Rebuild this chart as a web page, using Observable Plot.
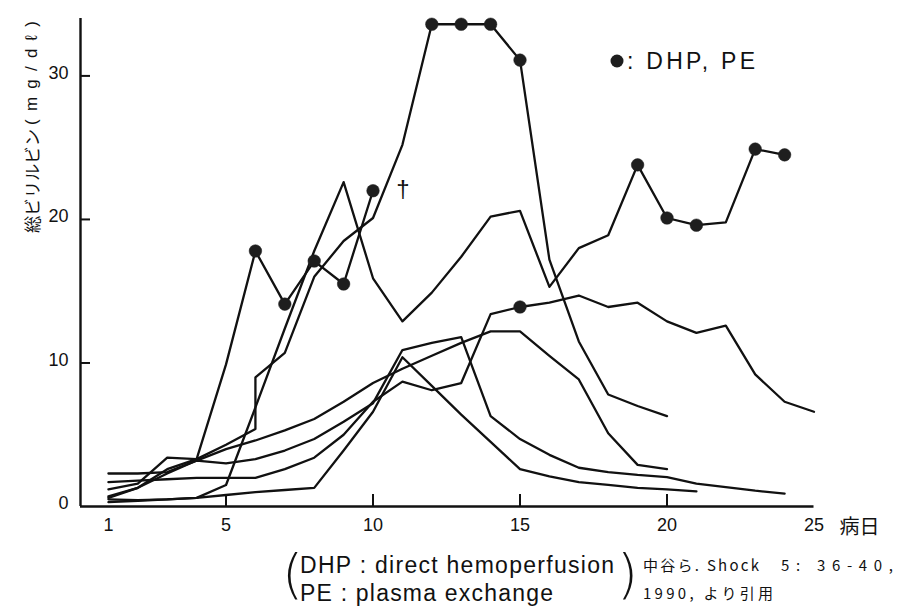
<!DOCTYPE html>
<html><head><meta charset="utf-8">
<script src="https://cdn.jsdelivr.net/npm/d3@7"></script>
<script src="https://cdn.jsdelivr.net/npm/@observablehq/plot@0.6"></script>
<style>
body{margin:0;background:#fff;}
#wrap{width:897px;height:607px;overflow:hidden;}
</style></head><body><div id="wrap"></div>
<script>
// ---- data: [病日, 総ビリルビン mg/dl] per case ----
const caseA = [[1,1.2],[2,1.6],[3,3.4],[4,3.3],[5,4.3],[6,5.4],[6,9.0],[7,10.7],[8,16.0],[9,18.5],[10,20.1],[11,25.2],[12,33.6],[13,33.6],[14,33.6],[15,31.1],[16,17.2],[17,11.5],[18,7.8],[19,7.0],[20,6.3]];
const caseB = [[1,0.3],[2,0.4],[3,0.5],[4,0.6],[5,1.5],[6,6.9],[7,12.4],[8,17.8],[9,22.6],[10,15.9],[11,12.9],[12,14.9],[13,17.4],[14,20.2],[15,20.6],[16,15.3],[17,18.0],[18,18.9],[19,23.8],[20,20.1],[21,19.6],[22,19.8],[23,24.9],[24,24.5]];
const caseD = [[1,0.7],[2,1.3],[3,2.6],[4,3.3],[5,9.9],[6,17.8],[7,14.1],[8,17.1],[9,15.5],[10,22.0]];
const caseE = [[1,2.3],[2,2.3],[3,2.4],[4,3.2],[5,3.0],[6,3.3],[7,3.9],[8,4.7],[9,5.9],[10,7.2],[11,10.9],[12,11.4],[13,11.8],[14,6.3],[15,4.7],[16,3.6],[17,2.7],[18,2.4],[19,2.2],[20,2.05],[21,1.6],[22,1.35],[23,1.1],[24,0.9]];
const caseF = [[1,0.5],[2,0.45],[3,0.5],[4,0.6],[5,0.8],[6,1.0],[7,1.15],[8,1.3],[9,3.9],[10,6.6],[11,10.4],[12,8.4],[13,6.4],[14,4.5],[15,2.6],[16,2.1],[17,1.7],[18,1.5],[19,1.3],[20,1.2],[21,1.05]];
const caseG = [[1,1.7],[2,1.8],[3,1.9],[4,2.0],[5,2.0],[6,2.0],[7,2.6],[8,3.4],[9,5.0],[10,7.3],[11,8.7],[12,8.1],[13,8.6],[14,13.4],[15,13.9],[16,14.2],[17,14.7],[18,13.9],[19,14.2],[20,12.9],[21,12.1],[22,12.6],[23,9.2],[24,7.3],[25,6.6]];
const caseH = [[1,0.6],[2,1.3],[3,2.3],[4,3.2],[5,4.0],[6,4.6],[7,5.3],[8,6.1],[9,7.3],[10,8.6],[11,9.6],[12,10.5],[13,11.4],[14,12.2],[15,12.2],[16,10.5],[17,8.85],[18,5.1],[19,2.9],[20,2.6]];
// days with DHP / PE (●)
const dotsA = [12,13,14,15];
const dotsB = [19,20,21,23,24];
const dotsD = [6,7,8,9,10];
const dotsG = [15];

const xTickLabels = [1,5,10,15,20,25];
const xTickMarks = [5,10,15,20];
const yTickLabels = [0,10,20,30];
const xDomain = [0.05, 25];
const yDomain = [0, 34];

const cases = [
  {id:"A", pts:caseA, dots:dotsA},{id:"B", pts:caseB, dots:dotsB},
  {id:"D", pts:caseD, dots:dotsD},{id:"E", pts:caseE, dots:[]},
  {id:"F", pts:caseF, dots:[]},{id:"G", pts:caseG, dots:dotsG},
  {id:"H", pts:caseH, dots:[]}
];
const rows = cases.flatMap(c => c.pts.map(([day,val]) => ({id:c.id, day, val, dot:c.dots.includes(day)})));

const W = 897, H = 607, mT = 18, mB = 101, mL = 80, mR = 83.5;
const pxPerY = (H - mT - mB) / (yDomain[1]-yDomain[0]);
const pxPerX = (W - mL - mR) / (xDomain[1]-xDomain[0]);
const font = "'Liberation Sans', Arial, sans-serif";
const jp = "'Noto Sans CJK JP', 'Noto Sans CJK SC', sans-serif";

const plot = Plot.plot({
  width: W, height: H,
  marginTop: mT, marginBottom: mB, marginLeft: mL, marginRight: mR,
  style: {fontFamily: font, background: "#fff", color: "#111"},
  x: {domain: xDomain, axis: null},
  y: {domain: yDomain, axis: null},
  marks: [
    Plot.ruleY([yDomain[0]], {x1: xDomain[0], x2: xDomain[1], stroke: "#111", strokeWidth: 2.4}),
    Plot.ruleX([xDomain[0]], {y1: yDomain[0], y2: yDomain[1], stroke: "#111", strokeWidth: 2.4}),
    Plot.ruleX(xTickMarks, {x: d => d, y1: yDomain[0], y2: 12/pxPerY, stroke: "#111", strokeWidth: 2}),
    Plot.ruleY(yTickLabels.filter(v => v > 0), {y: d => d, x1: xDomain[0], x2: xDomain[0] + 10/pxPerX, stroke: "#111", strokeWidth: 2}),
    Plot.text(xTickLabels, {x: d => d, y: yDomain[0], dy: 19, text: d => String(d), fontSize: 18, fill: "#111"}),
    Plot.text(yTickLabels, {x: xDomain[0], y: d => d, dx: -12, dy: -3, text: d => String(d), textAnchor: "end", fontSize: 18, fill: "#111"}),
    Plot.line(rows, {x: "day", y: "val", z: "id", stroke: "#111", strokeWidth: 2.3, strokeLinejoin: "round"}),
    Plot.dot(rows.filter(d => d.dot), {x: "day", y: "val", r: 6.3, fill: "#1e1e1e", stroke: "#1e1e1e", strokeWidth: 0.5}),
    Plot.text([caseD[caseD.length-1]], {x: d => d[0], y: d => d[1], text: () => "†", dx: 30, dy: -1, fontSize: 24, fill: "#111"})
  ]
});

const svg = d3.select(plot);
const sx = plot.scale("x"), sy = plot.scale("y");
const yBase = sy.apply(yDomain[0]);

function txt(g, x, y, s, opts) {
  const t = g.append("text").attr("x", x).attr("y", y).attr("text-anchor", opts.anchor || "start")
    .attr("font-family", opts.family || font).attr("font-size", opts.size).attr("fill", "#111").text(s);
  if (opts.len) t.attr("textLength", opts.len).attr("lengthAdjust", opts.adjust || "spacing");
  if (opts.weight) t.attr("font-weight", opts.weight);
  if (opts.baseline) t.attr("dominant-baseline", opts.baseline);
  return t;
}

// y-axis label (rotated)
const yl = svg.append("g").attr("transform", "translate(31,233) rotate(-90)");
txt(yl, 0, 0, "総ビリルビン", {family: jp, size: 17, len: 104, adjust: "spacingAndGlyphs", baseline: "central"});
txt(yl, 108, 0, "(mg/dℓ)", {size: 17, len: 104, adjust: "spacing", baseline: "central"});

// x-axis unit
txt(svg, sx.apply(xDomain[1]) + 46, yBase + 19, "病日", {family: jp, size: 20, anchor: "middle", baseline: "central"});

// legend
svg.append("circle").attr("cx", 617).attr("cy", 61).attr("r", 6.5).attr("fill", "#1e1e1e");
txt(svg, 627, 69, ": DHP, PE", {size: 23, len: 128});

// notes below
const notes = svg.append("g");
txt(notes, 282, 593, "(", {family: "'DejaVu Sans', sans-serif", weight: 200, size: 54});
txt(notes, 617, 593, ")", {family: "'DejaVu Sans', sans-serif", weight: 200, size: 54});
txt(notes, 300, 573, "DHP : direct hemoperfusion", {size: 23, len: 314});
txt(notes, 300, 601, "PE : plasma exchange", {size: 23, len: 253});
txt(notes, 643, 571, "中谷ら. Shock", {family: jp, size: 15, len: 116});
txt(notes, 781, 571, "5: 36-40,", {family: jp, size: 15, len: 112});
txt(notes, 643, 599, "1990, より引用", {family: jp, size: 15, len: 130});

document.getElementById("wrap").appendChild(plot);
</script>
</body></html>
